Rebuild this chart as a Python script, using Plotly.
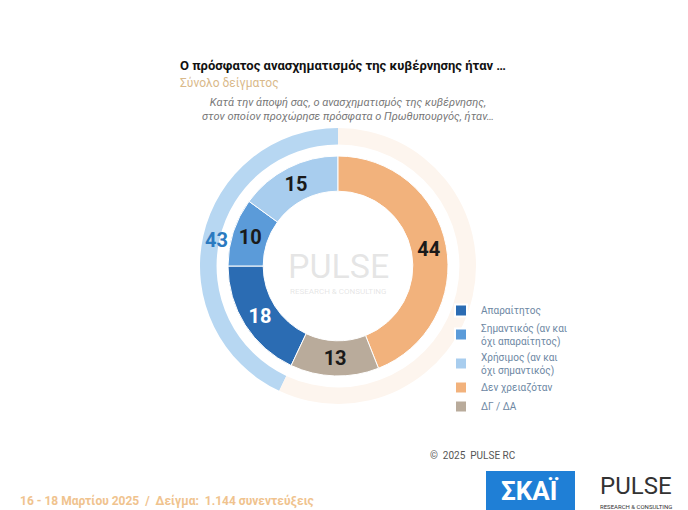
import plotly.graph_objects as go

# slices in legend order (clockwise from the start of "Απαραίτητος")
labels = ["Απαραίτητος", "Σημαντικός (αν και<br>όχι απαραίτητος)", "Χρήσιμος (αν και<br>όχι σημαντικός)",
          "Δεν χρειαζόταν", "ΔΓ / ΔΑ"]
values = [18, 10, 15, 44, 13]
colors = ["#2b6cb3", "#5b9bd9", "#a8cdee", "#f2b27c", "#b9ab9b"]
text_colors = ["white", "#1a1a1a", "#1a1a1a", "#1a1a1a", "#1a1a1a"]

blue_total = sum(values[:3])
other_total = sum(values[3:])
# rotate so that the orange slice starts at 12 o'clock
rotation = 360 * other_total / 100

W, H = 688, 510
cx, cy = 330, 258

def dom(r):
    return dict(x=[(cx - r) / W, (cx + r) / W], y=[(H - cy - r) / H, (H - cy + r) / H])

fig = go.Figure()

# outer ring: total of the blue answers
fig.add_trace(go.Pie(
    values=[blue_total, other_total], labels=["blue", "rest"],
    marker=dict(colors=["#b7d7f2", "#fdf5ee"]),
    hole=0.88, sort=False, direction="clockwise", rotation=rotation,
    textinfo="none", hoverinfo="skip", showlegend=False, domain=dom(138),
))

# main ring
fig.add_trace(go.Pie(
    values=values, labels=labels,
    marker=dict(colors=colors, line=dict(color="white", width=1)),
    hole=0.68, sort=False, direction="clockwise", rotation=rotation,
    textinfo="value", textposition="inside", insidetextorientation="horizontal",
    texttemplate="<b>%{value}</b>",
    textfont=dict(size=20, color=text_colors, family="Roboto"),
    domain=dom(110),
))

annotations = [
    dict(x=170 / W, y=1 - 58 / H, text="<b>Ο πρόσφατος ανασχηματισμός της κυβέρνησης ήταν …</b>",
         font=dict(size=13, color="#111"), xanchor="left"),
    dict(x=170 / W, y=1 - 75 / H, text="Σύνολο δείγματος", font=dict(size=12, color="#d9b98a"),
         xanchor="left"),
    dict(x=340 / W, y=1 - 102 / H,
         text="<i>Κατά την άποψή σας, ο ανασχηματισμός της κυβέρνησης,<br>στον οποίον προχώρησε πρόσφατα ο Πρωθυπουργός, ήταν…</i>",
         font=dict(size=11, color="#777"), xanchor="center"),
    dict(x=208 / W, y=1 - 232 / H, text=f"<b>{blue_total}</b>", font=dict(size=20, color="#2b7ac0"),
         xanchor="center"),
    dict(x=cx / W, y=1 - 258 / H, text="PULSE", font=dict(size=34, color="rgba(180,180,180,0.35)"),
         xanchor="center"),
    dict(x=cx / W, y=1 - 283 / H, text="RESEARCH & CONSULTING", font=dict(size=8, color="rgba(180,180,180,0.35)"),
         xanchor="center"),
    dict(x=420 / W, y=1 - 447 / H, text="©  2025  PULSE RC", font=dict(size=10, color="#555"),
         xanchor="left"),
    dict(x=10 / W, y=1 - 493 / H,
         text="<b>16 - 18 Μαρτίου 2025  /  Δείγμα:  1.144 συνεντεύξεις</b>",
         font=dict(size=12, color="#f0c38e"), xanchor="left"),
    dict(x=522 / W, y=1 - 483 / H, text="<b>ΣΚΑΪ</b>", font=dict(size=26, color="white"), xanchor="center"),
    dict(x=628 / W, y=1 - 478 / H, text="PULSE", font=dict(size=24, color="#333"), xanchor="center"),
    dict(x=628 / W, y=1 - 498 / H, text="RESEARCH & CONSULTING", font=dict(size=6, color="#333"),
         xanchor="center"),
]
for a in annotations:
    fig.add_annotation(xref="paper", yref="paper", showarrow=False, yanchor="middle", **a)

fig.add_shape(type="rect", xref="paper", yref="paper", x0=478 / W, x1=567 / W,
              y0=1 - 502 / H, y1=1 - 463 / H, fillcolor="#1f7fd6", line=dict(width=0), layer="below")

fig.update_layout(
    width=W, height=H, margin=dict(l=0, r=0, t=0, b=0),
    paper_bgcolor="white", plot_bgcolor="white",
    font=dict(family="Roboto"),
    legend=dict(x=433 / W, y=1 - 288 / H, xanchor="left", yanchor="top",
                font=dict(size=10, color="#6d87a3"), tracegroupgap=0, itemsizing="constant",
                bgcolor="rgba(0,0,0,0)"),
)

fig.write_html("out.html")
